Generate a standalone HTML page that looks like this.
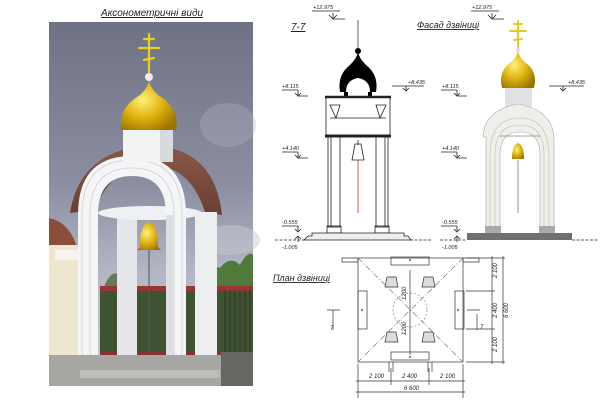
<!DOCTYPE html>
<html><head><meta charset="utf-8"><style>
html,body{margin:0;padding:0;background:#fff;width:600px;height:400px;overflow:hidden}
svg{display:block}
text{font-family:"Liberation Sans",sans-serif;font-style:italic;fill:#222}
</style></head><body>
<svg width="600" height="400" viewBox="0 0 600 400" xmlns="http://www.w3.org/2000/svg">
<defs>
<linearGradient id="sky" x1="0" y1="0" x2="0" y2="1">
<stop offset="0" stop-color="#6f7285"/><stop offset="0.45" stop-color="#8c8fa2"/><stop offset="0.7" stop-color="#b4b8c6"/><stop offset="1" stop-color="#c8ccd6"/></linearGradient>
<radialGradient id="gold" cx="0.4" cy="0.4" r="0.7"><stop offset="0" stop-color="#fff27a"/><stop offset="0.5" stop-color="#e0b410"/><stop offset="1" stop-color="#9a7400"/></radialGradient>
<linearGradient id="roof" x1="0" y1="0" x2="0" y2="1"><stop offset="0" stop-color="#8a5a48"/><stop offset="1" stop-color="#6a3e32"/></linearGradient>
</defs>
<!-- LEFT PHOTO -->
<text x="152" y="16" font-size="10" text-anchor="middle" text-decoration="underline">Аксонометричні види</text>
<rect x="49" y="22" width="204" height="364" fill="url(#sky)"/>
<ellipse cx="228" cy="125" rx="28" ry="22" fill="#aeb1c0" opacity="0.35"/>
<ellipse cx="230" cy="240" rx="30" ry="15" fill="#c5c9d4" opacity="0.5"/>
<!-- trees -->
<path d="M200 300 Q205 262 220 268 Q230 255 240 265 Q248 250 253 255 L253 300Z" fill="#4f7a3c"/>
<path d="M100 300 Q110 260 125 280 L140 300Z" fill="#667a55"/>
<!-- fence -->
<rect x="100" y="287" width="153" height="68" fill="#3f5232"/>
<rect x="100" y="286" width="153" height="5" fill="#9a3535"/>
<rect x="100" y="352" width="153" height="4" fill="#8a3030"/>
<g stroke="#2a2a20" stroke-width="0.7">
<line x1="225" y1="290" x2="225" y2="352"/><line x1="230" y1="290" x2="230" y2="352"/><line x1="235" y1="290" x2="235" y2="352"/><line x1="240" y1="290" x2="240" y2="352"/><line x1="245" y1="290" x2="245" y2="352"/><line x1="250" y1="290" x2="250" y2="352"/>
</g>
<!-- left building -->
<path d="M49 218 Q70 222 78 250 L49 250Z" fill="#8a4e3a"/>
<rect x="49" y="245" width="30" height="110" fill="#efe6cf"/>
<rect x="55" y="250" width="25" height="10" fill="#f5f3ee"/>
<!-- base -->
<rect x="49" y="355" width="172" height="31" fill="#a6a6a2"/>
<rect x="80" y="370" width="140" height="8" fill="#bdbdb8"/>
<rect x="221" y="352" width="32" height="34" fill="#666662"/>
<!-- roof -->
<path d="M70 213 Q80 150 150 145 Q215 148 222 215 L205 212 Q190 165 150 165 Q110 168 95 210Z" fill="url(#roof)"/>
<!-- back columns -->
<rect x="117" y="218" width="20" height="137" fill="#e6e7ea"/>
<rect x="195" y="212" width="22" height="143" fill="#eceef0"/>
<ellipse cx="150" cy="213" rx="52" ry="7" fill="#eef0f2"/>
<!-- bell -->
<line x1="149" y1="240" x2="149" y2="353" stroke="#555" stroke-width="1"/>
<path d="M140 247 Q140 224 149 222 Q158 224 158 247 L161 250 L137 250Z" fill="url(#gold)"/>
<!-- front arch -->
<path d="M78 355 L78 215 Q78 156 132 156 Q186 156 186 215 L186 355 L166 355 L166 215 Q166 176 132 176 Q98 176 98 215 L98 355Z" fill="#f4f5f6"/>
<path d="M82 355 L82 215 Q82 160 132 160 Q182 160 182 215 L182 355" fill="none" stroke="#d5d7db" stroke-width="1"/>
<path d="M90 355 L90 215 Q90 168 132 168 Q174 168 174 215 L174 355" fill="none" stroke="#d5d7db" stroke-width="1"/>
<rect x="166" y="215" width="8" height="140" fill="#dcdee2"/>
<!-- drum & dome -->
<rect x="123" y="130" width="50" height="32" fill="#f2f3f4"/>
<rect x="160" y="130" width="13" height="32" fill="#d8dadd"/>
<path d="M121 130 Q118 108 140 95 Q148 88 149 80 Q150 88 158 95 Q180 108 176 130Z" fill="url(#gold)"/>
<circle cx="149" cy="77" r="4" fill="#eee"/>
<g stroke="#e8d020" stroke-width="2.2" stroke-linecap="round">
<line x1="149" y1="34" x2="149" y2="72"/><line x1="139" y1="48" x2="159" y2="48"/><line x1="144" y1="39" x2="154" y2="39"/><line x1="144" y1="60" x2="154" y2="58"/>
</g>
<!-- SECTION 7-7 -->
<text x="291" y="30" font-size="10" text-decoration="underline">7-7</text>
<g font-size="5.5">
<text x="313" y="9">+12.975</text><text x="282" y="88">+8.115</text><text x="408" y="84">+8.435</text><text x="282" y="150">+4.140</text><text x="282" y="224">-0.555</text><text x="282" y="249">-1.005</text>
<text x="472" y="9">+12.975</text><text x="442" y="88">+8.115</text><text x="568" y="84">+8.435</text><text x="442" y="150">+4.140</text><text x="442" y="224">-0.555</text><text x="442" y="249">-1.005</text>
</g>
<g stroke="#222" stroke-width="0.8" fill="none">
<path d="M312 11 H340 M333 13 V18 M329 15 L333 19 L337 15 M333 19 H345"/>
<path d="M282 90 H298 M298 90 V95 M295 93 L298 96 L301 93 M298 96 H308"/>
<path d="M392 86 H424 M406 86 V90 M403 88 L406 91 L409 88"/>
<path d="M282 152 H298 M298 152 V157 M295 155 L298 158 L301 155 M298 158 H308"/>
<path d="M282 226 H298 M298 226 V231 M295 229 L298 232 L301 229"/>
<path d="M298 236 L295 239 M298 236 L301 239 M298 236 V242"/>
<path d="M471 11 H499 M492 13 V18 M488 15 L492 19 L496 15 M492 19 H504"/>
<path d="M441 90 H457 M457 90 V95 M454 93 L457 96 L460 93 M457 96 H467"/>
<path d="M549 86 H584 M563 86 V90 M560 88 L563 91 L566 88"/>
<path d="M441 152 H457 M457 152 V157 M454 155 L457 158 L460 155 M457 158 H467"/>
<path d="M441 226 H457 M457 226 V231 M454 229 L457 232 L460 229"/>
<path d="M457 236 L454 239 M457 236 L460 239 M457 236 V242"/>
<path d="M275 240 H305 M410 240 H432 M440 240 H467 M572 240 H598" stroke-dasharray="3 1.5"/>
</g>
<line x1="358" y1="20" x2="358" y2="50" stroke="#222" stroke-width="0.7"/>
<circle cx="358" cy="51" r="3" fill="#000"/>
<path d="M340 92 Q337 75 350 65 Q357 58 358 52 Q359 58 366 65 Q379 75 376 92 L370 92 Q370 80 358 78 Q346 80 346 92Z" fill="#000"/>
<rect x="344" y="92" width="4" height="6" fill="#000"/><rect x="368" y="92" width="4" height="6" fill="#000"/>
<g stroke="#222" fill="none" stroke-width="0.8">
<rect x="326" y="97" width="64" height="40"/>
<line x1="325" y1="97" x2="391" y2="97" stroke-width="2.5"/>
<line x1="325" y1="136" x2="391" y2="136" stroke-width="3"/>
<line x1="330" y1="118" x2="386" y2="118"/>
<path d="M330 105 L340 105 L336 118 Z M376 105 L386 105 L380 118Z"/>
<rect x="328" y="137" width="12" height="90"/><rect x="376" y="137" width="12" height="90"/>
<line x1="331" y1="137" x2="331" y2="227"/><line x1="385" y1="137" x2="385" y2="227"/>
<rect x="327" y="226" width="14" height="7"/><rect x="375" y="226" width="14" height="7"/>
<path d="M304 240 L308 236 L312 236 L312 233 L404 233 L404 236 L408 236 L411 240Z" fill="#eee"/>
<path d="M352 160 Q354 150 355 144 L361 144 Q362 150 364 160Z"/>
<line x1="358" y1="140" x2="358" y2="145"/>
</g>
<line x1="358" y1="160" x2="358" y2="213" stroke="#c03030" stroke-width="0.8"/>
<!-- FACADE -->
<text x="417" y="28" font-size="9" text-decoration="underline">Фасад дзвіниці</text>
<rect x="505" y="87" width="27" height="20" fill="#dfe1e3"/>
<path d="M502 88 Q498 72 510 63 Q517 58 518 50 Q519 58 526 63 Q538 72 534 88Z" fill="url(#gold)"/>
<circle cx="518" cy="50" r="2" fill="#ddd"/>
<g stroke="#e8c820" stroke-width="2" stroke-linecap="round">
<line x1="518" y1="21" x2="518" y2="47"/><line x1="510" y1="31" x2="526" y2="31"/><line x1="514" y1="24" x2="522" y2="24"/><line x1="514" y1="40" x2="522" y2="39"/>
</g>
<path d="M483 137 Q484 110 518 104 Q552 110 554 137 L554 232 L540 232 L540 155 Q540 132 520 132 Q500 132 500 155 L500 232 L486 232 L486 137Z" fill="#eef0ea" stroke="#aaa" stroke-width="0.6"/>
<path d="M490 232 V155 Q490 118 520 118 Q548 118 549 155 V232" fill="none" stroke="#c8cac4" stroke-width="0.8"/>
<path d="M495 232 V155 Q495 125 520 125 Q544 125 544 155 V232" fill="none" stroke="#c8cac4" stroke-width="0.8"/>
<line x1="500" y1="136" x2="540" y2="136" stroke="#888" stroke-width="0.7"/>
<path d="M512 159 Q512 145 518 143 Q524 145 524 159Z" fill="url(#gold)"/>
<line x1="518" y1="160" x2="518" y2="213" stroke="#666" stroke-width="0.7"/>
<rect x="485" y="226" width="16" height="7" fill="#aaa"/><rect x="539" y="226" width="16" height="7" fill="#aaa"/>
<rect x="467" y="233" width="105" height="7" fill="#707070"/>
<!-- PLAN -->
<text x="273" y="281" font-size="9" text-decoration="underline">План дзвіниці</text>
<g stroke="#333" stroke-width="0.7" fill="none">
<rect x="358" y="258" width="105" height="104"/>
<path d="M342 258 H358 V262 H342Z M463 258 H479 V262 H463Z"/>
<path d="M358 258 L463 362 M463 258 L358 362" stroke-dasharray="6 2 1 2" stroke="#777"/>
<line x1="410" y1="270" x2="410" y2="355"/>
<circle cx="410" cy="310" r="17" stroke-dasharray="2 2" stroke="#888"/>
<rect x="391" y="257" width="38" height="8"/><rect x="391" y="352" width="38" height="8"/>
<rect x="358" y="291" width="9" height="38"/><rect x="455" y="291" width="9" height="38"/>
<path d="M387 277 L396 277 L398 287 L385 287Z M424 277 L433 277 L435 287 L422 287Z M387 332 L396 332 L398 342 L385 342Z M424 332 L433 332 L435 342 L422 342Z" fill="#ddd"/>
<path d="M327 310 H340 M333 310 V330 M467 310 H480 M477 314 V330"/>
<path d="M389 362 V372 M393 362 V372 M428 362 V372 M432 362 V372"/>
<path d="M358 364 V398 M391 368 V385 M429 368 V385 M463 364 V398 M356 381 H465 M356 392 H465"/>
<path d="M466 258 H505 M466 291 H495 M466 329 H495 M466 362 H505 M492 256 V364 M503 256 V364"/>
</g>
<g fill="#d07030"><circle cx="410" cy="260" r="1.2"/><circle cx="410" cy="357" r="1.2"/><circle cx="362" cy="310" r="1.2"/><circle cx="458" cy="310" r="1.2"/></g>
<g font-size="6">
<text x="369" y="378">2 100</text><text x="402" y="378">2 400</text><text x="440" y="378">2 100</text><text x="404" y="390">6 600</text>
<text x="330" y="330">7</text><text x="480" y="329">7</text>
<text transform="translate(497,278) rotate(-90)">2 100</text>
<text transform="translate(497,318) rotate(-90)">2 400</text>
<text transform="translate(497,352) rotate(-90)">2 100</text>
<text transform="translate(508,318) rotate(-90)">6 600</text>
<text transform="translate(406,300) rotate(-90)">1200</text>
<text transform="translate(406,335) rotate(-90)">1200</text>
</g>
</svg>
</body></html>
